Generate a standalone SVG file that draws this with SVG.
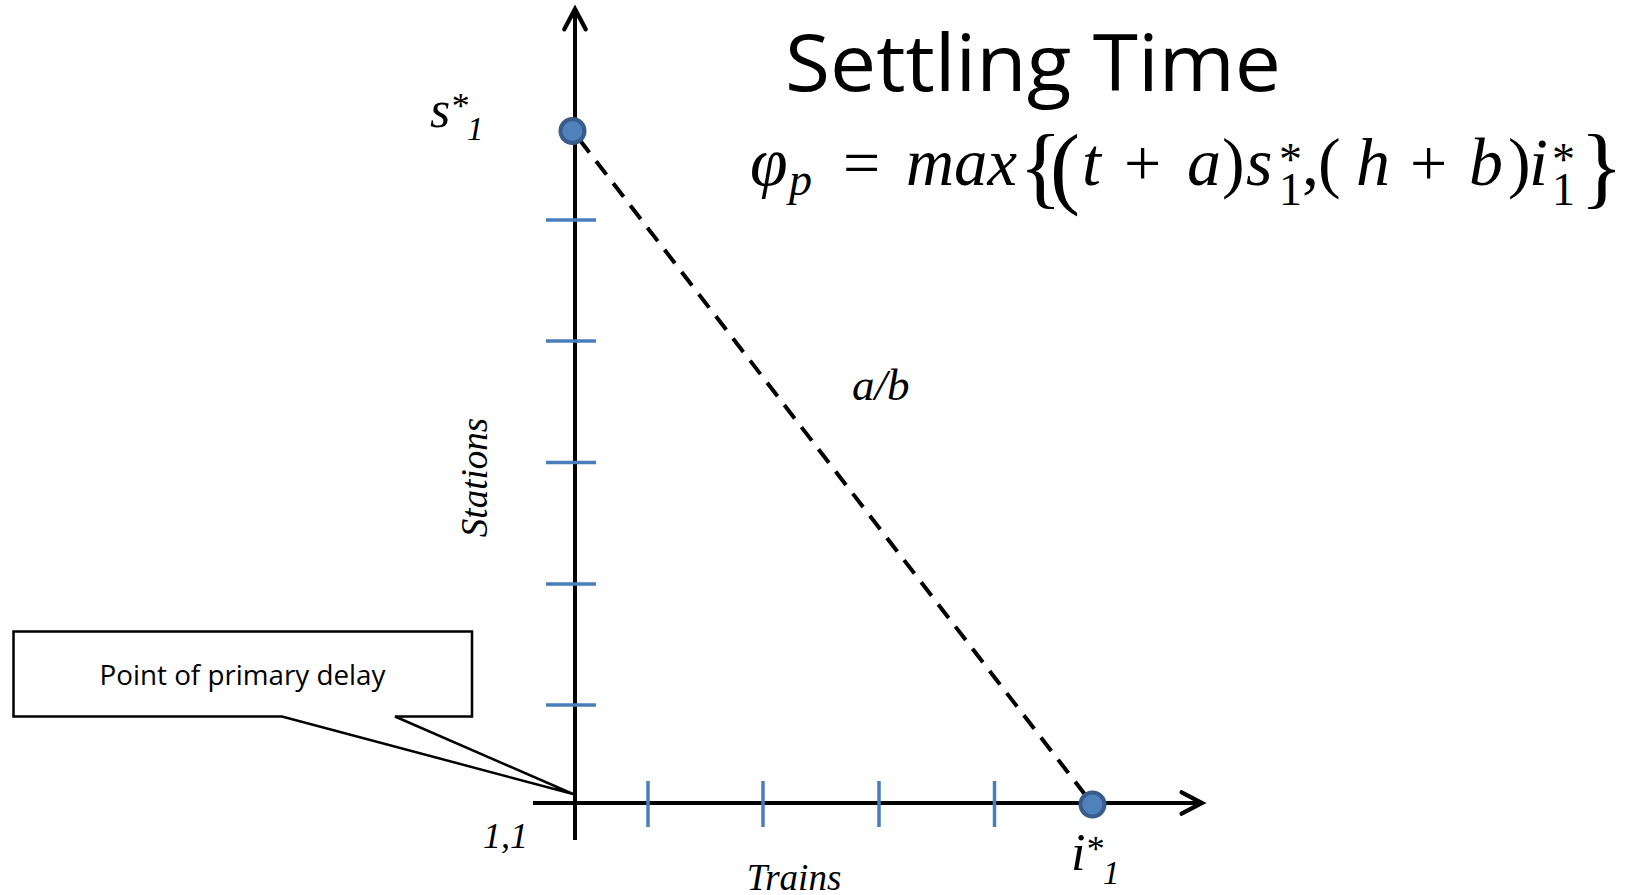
<svg xmlns="http://www.w3.org/2000/svg" width="1626" height="895" viewBox="0 0 1626 895">
<defs>
<style>
.axis{stroke:#000;stroke-width:4;fill:none}
.tick{stroke:#4a7ebb;stroke-width:3.5;fill:none}
.dash{stroke:#000;stroke-width:4;stroke-dasharray:17 11;fill:none}
.dot{fill:#4f81bd;stroke:#385d8a;stroke-width:4}
.lbl{font-family:"Liberation Serif","Times New Roman",serif;font-style:italic;fill:#000}
.math{font-family:"Liberation Serif","Times New Roman",serif;fill:#000}
.it{font-style:italic}
</style>
<marker id="arr" markerUnits="userSpaceOnUse" markerWidth="30" markerHeight="30" refX="0" refY="0" viewBox="-24 -14 28 28" orient="auto" overflow="visible">
<path d="M-19,-10 L0,0 L-19,10" fill="none" stroke="#000" stroke-width="4" stroke-linecap="round" stroke-linejoin="miter"/>
</marker>
</defs>
<rect width="1626" height="895" fill="#fff"/>

<g id="connectors">
<line class="axis" x1="575" y1="840" x2="575" y2="9" marker-end="url(#arr)"/>
<line class="axis" x1="533" y1="803" x2="1202" y2="803" marker-end="url(#arr)"/>
<line class="tick" x1="546" y1="220" x2="596" y2="220"/>
<line class="tick" x1="546" y1="341" x2="596" y2="341"/>
<line class="tick" x1="546" y1="462.5" x2="596" y2="462.5"/>
<line class="tick" x1="546" y1="584" x2="596" y2="584"/>
<line class="tick" x1="546" y1="705" x2="596" y2="705"/>
<line class="tick" x1="648" y1="781" x2="648" y2="827"/>
<line class="tick" x1="763" y1="781" x2="763" y2="827"/>
<line class="tick" x1="879" y1="781" x2="879" y2="827"/>
<line class="tick" x1="994.5" y1="781" x2="994.5" y2="827"/>
<line class="dash" x1="579" y1="139" x2="1090" y2="801"/>
</g>

<g id="node-s1">
<circle class="dot" cx="572.5" cy="131" r="12"/>
<text class="lbl" x="430" y="127" font-size="52">s</text>
<text class="lbl" x="450" y="118" font-size="36" font-style="normal">*</text>
<text class="lbl" x="467" y="140" font-size="33">1</text>
</g>

<g id="node-i1">
<circle class="dot" cx="1092.5" cy="804.5" r="12"/>
<text class="lbl" x="1071" y="870" font-size="52">i</text>
<text class="lbl" x="1085" y="861" font-size="36" font-style="normal">*</text>
<text class="lbl" x="1103" y="884" font-size="33">1</text>
</g>

<g id="node-origin">
<text class="lbl" x="483" y="848" font-size="36">1,1</text>
</g>

<g id="label-trains">
<text class="lbl" x="794" y="890" font-size="37" text-anchor="middle">Trains</text>
</g>

<g id="label-stations">
<text class="lbl" transform="translate(487,477.5) rotate(-90)" x="0" y="0" font-size="37" text-anchor="middle">Stations</text>
</g>

<g id="label-ab">
<text class="lbl" x="852" y="400" font-size="45">a/b</text>
</g>

<g id="callout">
<path d="M13.5,631.5 H472 V716.5 H395 L573,794 L282,716.5 H13.5 Z" fill="#fff" stroke="#000" stroke-width="2.5" stroke-linejoin="miter"/>
<text x="242.5" y="685" font-family="'Open Sans','Liberation Sans',Arial,sans-serif" font-size="27" text-anchor="middle" textLength="286" lengthAdjust="spacingAndGlyphs" fill="#000">Point of primary delay</text>
</g>

<g id="title">
<text x="785" y="91" font-family="'Open Sans','Liberation Sans',Arial,sans-serif" font-size="79" textLength="496" lengthAdjust="spacingAndGlyphs" fill="#000">Settling Time</text>
</g>

<g id="formula">
<text class="math" font-size="68">
<tspan class="it" x="750" y="185">φ</tspan>
<tspan class="it" x="789" y="195" font-size="46">p</tspan>
<tspan x="843" y="185" font-size="66">=</tspan>
<tspan class="it" x="906" y="185" textLength="111" lengthAdjust="spacingAndGlyphs">max</tspan>
<tspan x="1019" y="197" font-size="90">{</tspan>
<tspan x="1050" y="197" font-size="90">(</tspan>
<tspan class="it" x="1082" y="185">t</tspan>
<tspan x="1124" y="185" font-size="66">+</tspan>
<tspan class="it" x="1187" y="185">a</tspan>
<tspan x="1222" y="185">)</tspan>
<tspan class="it" x="1246" y="185">s</tspan>
<tspan x="1279" y="175" font-size="46">*</tspan>
<tspan x="1279" y="205" font-size="46">1</tspan>
<tspan x="1302" y="185">,</tspan>
<tspan x="1318" y="185">(</tspan>
<tspan class="it" x="1356" y="185">h</tspan>
<tspan x="1410" y="185" font-size="66">+</tspan>
<tspan class="it" x="1469" y="185">b</tspan>
<tspan x="1508" y="185">)</tspan>
<tspan class="it" x="1529" y="185">i</tspan>
<tspan x="1552" y="175" font-size="46">*</tspan>
<tspan x="1552" y="205" font-size="46">1</tspan>
<tspan x="1580" y="197" font-size="90">}</tspan>
</text>
</g>
</svg>
